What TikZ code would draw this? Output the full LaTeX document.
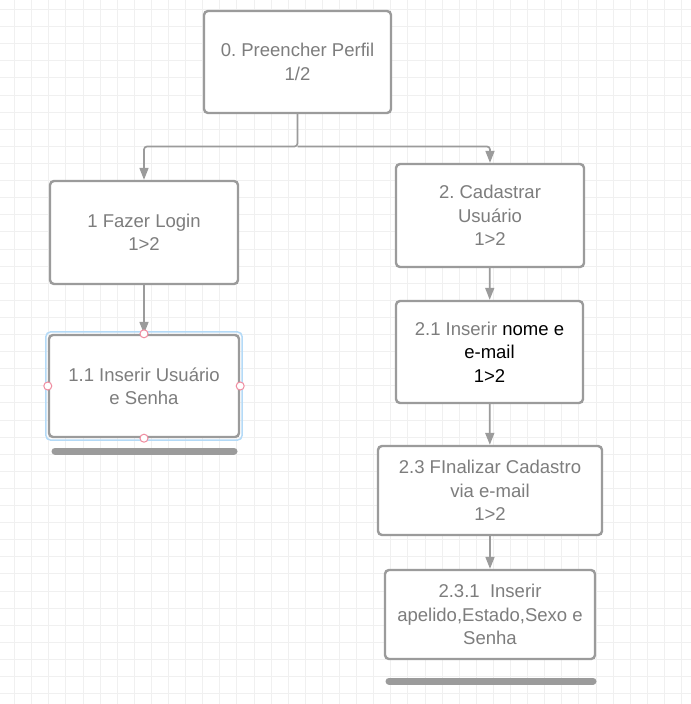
\documentclass[tikz,border=0pt]{standalone}
\usepackage{fontspec}
\setmainfont{Liberation Sans}
\usepackage{tikz}
\usetikzlibrary{arrows.meta}
\definecolor{linegray}{RGB}{155,155,155}
\definecolor{txtgray}{RGB}{125,125,125}
\definecolor{gridgray}{RGB}{240,240,240}
\definecolor{selblue}{RGB}{180,218,247}
\definecolor{handlepink}{RGB}{240,140,160}
\frenchspacing
\begin{document}
\begin{tikzpicture}[x=1bp,y=-1bp,
  box/.style={draw=linegray,line width=2.4bp,rounded corners=4bp,fill=white,
    align=center,text=txtgray,font=\fontsize{18.6}{23.5}\selectfont,inner sep=0pt},
  conn/.style={draw=linegray,line width=1.7bp,rounded corners=3bp,
    -{Triangle[length=12bp,width=9bp]}},
  bar/.style={draw=linegray,line width=7bp,line cap=round},
  handle/.style={circle,draw=handlepink,fill=white,line width=1bp,
    minimum size=8bp,inner sep=0pt}]
\useasboundingbox (0,0) rectangle (691,704);
\fill[white] (0,0) rectangle (691,704);
% grid
\foreach \gx in {0,...,39}
  \draw[gridgray,line width=0.8bp] (14.5+17.1*\gx,0) -- (14.5+17.1*\gx,704);
\foreach \gy in {0,...,40}
  \draw[gridgray,line width=0.8bp] (0,9.5+17.1*\gy) -- (691,9.5+17.1*\gy);

% boxes
\node[box,minimum width=187bp,minimum height=102bp] (perfil) at (297.5,62) {0. Preencher Perfil\\1/2};
\node[box,minimum width=188bp,minimum height=103bp] (login) at (144,232.5) {1 Fazer Login\\1>2};
\node[box,minimum width=190bp,minimum height=102bp] (usuario) at (144,386) {1.1 Inserir Usuário\\e Senha};
\node[box,minimum width=188bp,minimum height=103bp] (cadastrar) at (490,215.5) {2. Cadastrar\\Usuário\\1>2};
\node[box,minimum width=187bp,minimum height=102bp,text=black] (nome) at (489.5,352) {{\color{txtgray}2.1 Inserir} nome e\\e-mail\\1>2};
\node[box,minimum width=224bp,minimum height=89bp] (finalizar) at (490,490.5) {2.3 FInalizar Cadastro\\via e-mail\\1>2};
\node[box,minimum width=210bp,minimum height=89bp] (apelido) at (490,614.5) {2.3.1~~Inserir\\apelido,Estado,Sexo e\\Senha};

% connectors
\coordinate (split) at (297.5,146.5);
\draw[conn] (perfil.south) -- (split) -| (login.north);
\draw[conn] (split) -| (cadastrar.north);
\draw[conn] (login) -- (usuario);
\draw[conn] (cadastrar) -- (nome);
\draw[conn] (nome) -- (finalizar);
\draw[conn] (finalizar) -- (apelido);

% selection
\draw[selblue,line width=1.5bp,rounded corners=5bp] ([shift={(-2,-2)}]usuario.north west) rectangle ([shift={(2,2)}]usuario.south east);
\node[handle] (hn) at (usuario.north) {};
\node[handle] (hs) at (usuario.south) {};
\node[handle] (he) at (usuario.east) {};
\node[handle] (hw) at (usuario.west) {};

% bars
\draw[bar] (55,451) -- (234,451);
\draw[bar] (389,681) -- (593,681);
\end{tikzpicture}
\end{document}
